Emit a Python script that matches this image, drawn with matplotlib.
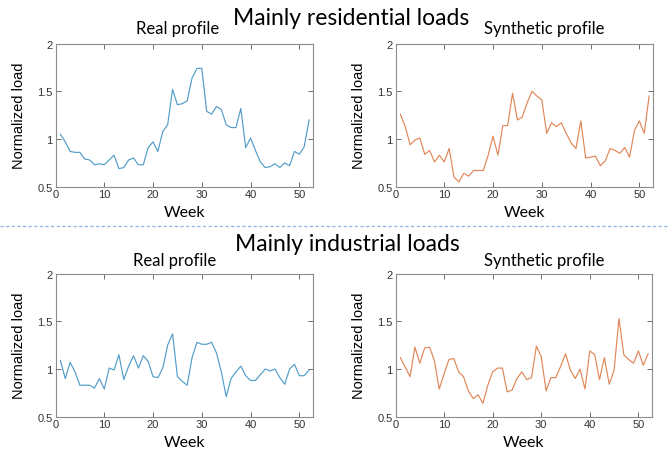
import numpy as np
import matplotlib
matplotlib.use("Agg")
import matplotlib.pyplot as plt
from matplotlib.lines import Line2D

weeks = list(range(1, 53))

res_real = [1.05, 0.97, 0.87, 0.86, 0.86, 0.79, 0.78, 0.73, 0.74, 0.73,
            0.78, 0.83, 0.69, 0.70, 0.78, 0.80, 0.73, 0.73, 0.91, 0.97,
            0.87, 1.08, 1.15, 1.52, 1.36, 1.37, 1.40, 1.64, 1.74, 1.74,
            1.29, 1.26, 1.34, 1.31, 1.15, 1.12, 1.12, 1.32, 0.91, 1.01,
            0.88, 0.76, 0.70, 0.71, 0.74, 0.70, 0.75, 0.72, 0.87, 0.84,
            0.92, 1.20]
res_syn = [1.26, 1.13, 0.94, 0.99, 1.01, 0.84, 0.88, 0.76, 0.83, 0.76,
           0.90, 0.60, 0.55, 0.64, 0.61, 0.67, 0.67, 0.67, 0.83, 1.03,
           0.83, 1.14, 1.14, 1.48, 1.20, 1.23, 1.38, 1.50, 1.45, 1.41,
           1.06, 1.17, 1.13, 1.17, 1.06, 0.96, 0.90, 1.19, 0.80, 0.81,
           0.82, 0.72, 0.77, 0.90, 0.88, 0.85, 0.91, 0.81, 1.09, 1.19,
           1.06, 1.45]
ind_real = [1.09, 0.90, 1.07, 0.97, 0.83, 0.83, 0.83, 0.80, 0.90, 0.79,
            1.01, 0.99, 1.15, 0.89, 1.03, 1.14, 1.01, 1.14, 1.08, 0.92,
            0.91, 1.01, 1.25, 1.37, 0.92, 0.87, 0.83, 1.12, 1.28, 1.26,
            1.26, 1.28, 1.17, 0.97, 0.71, 0.90, 0.97, 1.03, 0.93, 0.88,
            0.88, 0.94, 1.00, 0.98, 1.00, 0.91, 0.84, 1.00, 1.05, 0.93,
            0.93, 0.99]
ind_syn = [1.12, 1.02, 0.92, 1.23, 1.06, 1.22, 1.23, 1.09, 0.79, 0.95,
           1.10, 1.11, 0.97, 0.92, 0.77, 0.69, 0.73, 0.64, 0.83, 0.97,
           1.01, 1.01, 0.76, 0.78, 0.90, 0.97, 0.89, 0.91, 1.24, 1.13,
           0.77, 0.91, 0.91, 1.03, 1.16, 0.99, 0.90, 1.00, 0.79, 1.19,
           1.15, 0.89, 1.12, 0.84, 0.99, 1.53, 1.15, 1.10, 1.06, 1.19,
           1.04, 1.16]

blue = '#529dc9'
orange = '#e08758'
title_font = 'Lato'

fig = plt.figure(figsize=(6.7, 4.6), dpi=100)

W, H = 670.0, 460.0
def add_ax(left, top, right, bottom):
    return fig.add_axes([left / W, 1 - bottom / H, (right - left) / W, (bottom - top) / H])

def ftext(x, y, s, size, ha='center'):
    fig.text(x / W, 1 - y / H, s, family=title_font, fontsize=size, ha=ha, va='baseline')

panels = [
    (add_ax(55.5, 44.6, 313, 187.7), res_real, blue),
    (add_ax(395.5, 44.6, 653, 187.7), res_syn, orange),
    (add_ax(55.5, 274.7, 313, 417.7), ind_real, blue),
    (add_ax(395.5, 274.7, 652, 417.7), ind_syn, orange),
]

for ax, vals, col in panels:
    ax.plot(weeks, vals, color=col, lw=0.85)
    ax.set_xlim(0, 52.8)
    ax.set_ylim(0.5, 2)
    ax.set_xticks([0, 10, 20, 30, 40, 50])
    ax.set_yticks([0.5, 1, 1.5, 2])
    ax.set_yticklabels(['0.5', '1', '1.5', '2'])
    ax.tick_params(direction='in', top=True, right=True, length=3.5, width=0.6,
                   color='#555555', labelsize=8, labelcolor='#333333', pad=2)
    for lab in ax.get_xticklabels() + ax.get_yticklabels():
        lab.set_family('Liberation Sans')
    for sp in ax.spines.values():
        sp.set_color('#8c8c8c')
        sp.set_linewidth(0.8)
    ax.set_xlabel('Week', family=title_font, fontsize=11.5, labelpad=4)
    ax.set_ylabel('Normalized load', family='Liberation Sans', fontsize=10.5, labelpad=8)

# titles
ftext(233, 25, 'Mainly residential loads', 16.5, ha='left')
ftext(235, 251, 'Mainly industrial loads', 16.5, ha='left')
ftext(177.5, 34, 'Real profile', 12)
ftext(544, 34, 'Synthetic profile', 12)
ftext(175, 266, 'Real profile', 12)
ftext(544, 266, 'Synthetic profile', 12)

fig.add_artist(Line2D([0, 1], [1 - 227 / H, 1 - 227 / H], transform=fig.transFigure,
                      color='#8fb3e0', lw=0.9, ls=(0, (2.5, 2))))

fig.savefig('out.png', dpi=100, facecolor='white')
